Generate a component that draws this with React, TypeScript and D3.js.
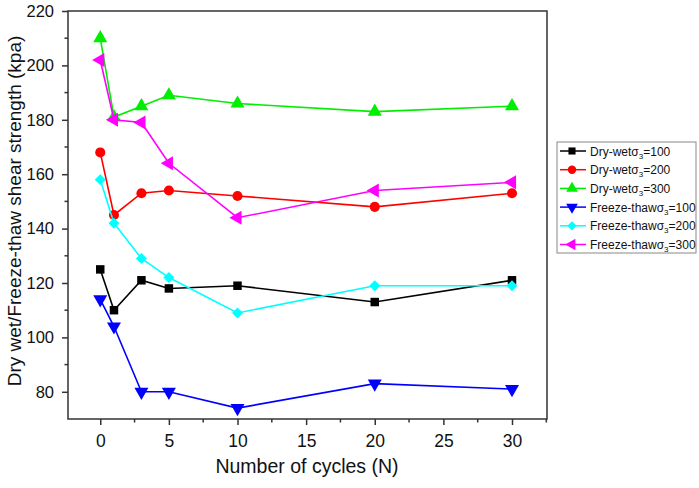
import { useEffect, useRef } from "react"
import * as d3 from "d3"

// cycles on the x axis
const cycles = [0, 1, 3, 5, 10, 20, 30]

// shear strength per series (kPa)
const dryWet100 = [125, 110, 121, 118, 119, 113, 121]
const dryWet200 = [168, 145, 153, 154, 152, 148, 153]
const dryWet300 = [210, 181, 185, 189, 186, 183, 185]
const freezeThaw100 = [114, 104, 80, 80, 74, 83, 81]
const freezeThaw200 = [158, 142, 129, 122, 109, 119, 119]
const freezeThaw300 = [202, 180, 179, 164, 144, 154, 157]

const seriesNames = ["Dry-wet", "Dry-wet", "Dry-wet", "Freeze-thaw", "Freeze-thaw", "Freeze-thaw"]
const sigmaValues = ["100", "200", "300", "100", "200", "300"]

const xTicks = [0, 5, 10, 15, 20, 25, 30]
const yTicks = [80, 100, 120, 140, 160, 180, 200, 220]

export default function App() {
  const svgRef = useRef<SVGSVGElement>(null)

  useEffect(() => {
    if (!svgRef.current) return
    const svg = d3.select(svgRef.current)
    svg.selectAll("*").remove()

    const W = 699
    const H = 488
    const left = 68
    const right = 547
    const top = 11
    const bottom = 419
    const font = "'Liberation Sans', Arial, sans-serif"

    const x = d3.scaleLinear().domain([-2.35, 32.55]).range([left, right])
    const y = d3.scaleLinear().domain([70, 220]).range([bottom, top])

    svg.attr("width", W).attr("height", H)
    svg.append("rect").attr("width", W).attr("height", H).attr("fill", "#fff")

    const frameColor = "#333"

    // рамка
    svg
      .append("rect")
      .attr("x", left)
      .attr("y", top)
      .attr("width", right - left)
      .attr("height", bottom - top)
      .attr("fill", "none")
      .attr("stroke", frameColor)
      .attr("stroke-width", 1.5)

    // ось X
    const xAxis = svg
      .append("g")
      .attr("transform", `translate(0,${bottom})`)
      .call(
        d3
          .axisBottom(x)
          .tickValues(xTicks)
          .tickSize(6)
          .tickPadding(10)
          .tickFormat(d3.format("d") as any),
      )
    xAxis.select(".domain").remove()
    xAxis.selectAll("line").attr("stroke", frameColor).attr("stroke-width", 1.5)
    xAxis
      .selectAll("text")
      .attr("font-family", font)
      .attr("font-size", 17.5)
      .attr("fill", "#111")

    const xMinor = svg.append("g").attr("transform", `translate(0,${bottom})`)
    xMinor
      .selectAll("line")
      .data([2.5, 7.5, 12.5, 17.5, 22.5, 27.5, 32.5])
      .enter()
      .append("line")
      .attr("x1", (d) => x(d))
      .attr("x2", (d) => x(d))
      .attr("y1", 0)
      .attr("y2", 3.5)
      .attr("stroke", frameColor)
      .attr("stroke-width", 1.5)

    // ось Y
    const yAxis = svg
      .append("g")
      .attr("transform", `translate(${left},0)`)
      .call(d3.axisLeft(y).tickValues(yTicks).tickSize(6).tickPadding(8))
    yAxis.select(".domain").remove()
    yAxis.selectAll("line").attr("stroke", frameColor).attr("stroke-width", 1.5)
    yAxis
      .selectAll("text")
      .attr("font-family", font)
      .attr("font-size", 16.5)
      .attr("fill", "#111")

    const yMinor = svg.append("g").attr("transform", `translate(${left},0)`)
    yMinor
      .selectAll("line")
      .data([90, 110, 130, 150, 170, 190, 210])
      .enter()
      .append("line")
      .attr("x1", -3.5)
      .attr("x2", 0)
      .attr("y1", (d) => y(d))
      .attr("y2", (d) => y(d))
      .attr("stroke", frameColor)
      .attr("stroke-width", 1.5)

    // подписи осей
    svg
      .append("text")
      .attr("x", 307)
      .attr("y", 473)
      .attr("text-anchor", "middle")
      .attr("font-family", font)
      .attr("font-size", 19.5)
      .attr("fill", "#111")
      .text("Number of cycles (N)")

    svg
      .append("text")
      .attr("transform", `translate(21,${211}) rotate(-90)`)
      .attr("text-anchor", "middle")
      .attr("font-family", font)
      .attr("font-size", 19)
      .attr("fill", "#111")
      .text("Dry wet/Freeze-thaw shear strength (kpa)")

    const allSeries = [dryWet100, dryWet200, dryWet300, freezeThaw100, freezeThaw200, freezeThaw300]
    const colors = ["#000000", "#ff0000", "#00ee00", "#0000ff", "#00ffff", "#ff00ff"]
    const symbols = [
      { type: d3.symbolSquare, size: 72, rot: 0 },
      { type: d3.symbolCircle, size: 80, rot: 0 },
      { type: d3.symbolTriangle, size: 85, rot: 0 },
      { type: d3.symbolTriangle, size: 85, rot: 180 },
      { type: d3.symbolSquare, size: 60, rot: 45 },
      { type: d3.symbolTriangle, size: 85, rot: -90 },
    ]

    const line = d3
      .line<number>()
      .x((_, i) => x(cycles[i]))
      .y((d) => y(d))

    allSeries.forEach((vals, si) => {
      const g = svg.append("g")
      g.append("path")
        .datum(vals)
        .attr("fill", "none")
        .attr("stroke", colors[si])
        .attr("stroke-width", 1.6)
        .attr("d", line)
      const s = symbols[si]
      g.selectAll("path.pt")
        .data(vals)
        .enter()
        .append("path")
        .attr("class", "pt")
        .attr("d", d3.symbol().type(s.type).size(s.size)())
        .attr("transform", (d, i) => `translate(${x(cycles[i])},${y(d)}) rotate(${s.rot})`)
        .attr("fill", colors[si])
    })

    // легенда
    const lx = 557
    const ly = 142
    const legend = svg.append("g")
    legend
      .append("rect")
      .attr("x", lx)
      .attr("y", ly)
      .attr("width", 139)
      .attr("height", 111)
      .attr("fill", "#fff")
      .attr("stroke", "#888")
      .attr("stroke-width", 1)
    seriesNames.forEach((name, i) => {
      const cy = ly + 9 + i * 18.7
      legend
        .append("line")
        .attr("x1", lx + 3)
        .attr("x2", lx + 29)
        .attr("y1", cy)
        .attr("y2", cy)
        .attr("stroke", colors[i])
        .attr("stroke-width", 1.5)
      const s = symbols[i]
      legend
        .append("path")
        .attr("d", d3.symbol().type(s.type).size(s.size * 0.7)())
        .attr("transform", `translate(${lx + 15},${cy}) rotate(${s.rot})`)
        .attr("fill", colors[i])
      const t = legend
        .append("text")
        .attr("x", lx + 33)
        .attr("y", cy + 4.5)
        .attr("font-family", font)
        .attr("font-size", 12)
        .attr("fill", "#111")
      t.append("tspan").text(`${name}σ`)
      t.append("tspan").attr("font-size", 8).attr("dy", 3).text("3")
      t.append("tspan").attr("dy", -3).text(`=${sigmaValues[i]}`)
    })
  }, [])

  return (
    <div style={{ position: "absolute", left: 0, top: 0, width: 699, height: 488 }}>
      <svg ref={svgRef} style={{ display: "block" }} />
    </div>
  )
}
